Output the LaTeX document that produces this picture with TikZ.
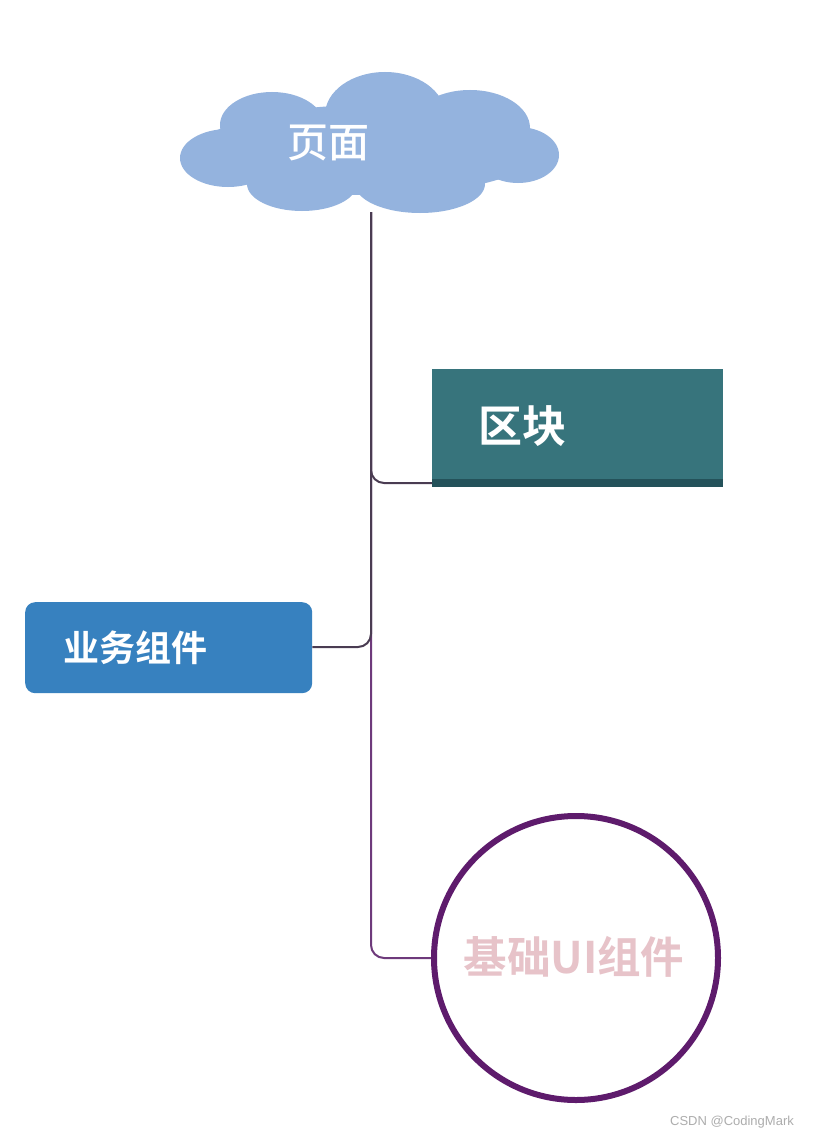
\documentclass[tikz,border=0pt]{standalone}
\usepackage{fontspec}
\newfontfamily\cjk{Noto Sans CJK SC Medium}
\newfontfamily\cjkb{Noto Sans CJK SC Bold}
\setsansfont{Liberation Sans}
\definecolor{cloudblue}{HTML}{94B3DE}
\definecolor{blockteal}{HTML}{37747C}
\definecolor{blockdark}{HTML}{24525A}
\definecolor{bizblue}{HTML}{3781BF}
\definecolor{ringpurple}{HTML}{5E1B6C}
\definecolor{uipink}{HTML}{E7C3C9}
\definecolor{linedark}{HTML}{4A3C52}
\definecolor{linepurple}{HTML}{6E3A7B}
\tikzset{
  conn/.style={line width=2pt, rounded corners=13pt},
  bump/.style={fill=cloudblue, draw=none},
}
\begin{document}
\begin{tikzpicture}[x=1pt,y=-1pt]
\useasboundingbox (0,0) rectangle (815,1137);
\fill[white] (0,0) rectangle (815,1137);
% cloud
\fill[bump] (370,150) ellipse[x radius=170, y radius=45];
\fill[bump] (385,115) ellipse[x radius=60, y radius=43];
\fill[bump] (272,125) ellipse[x radius=52, y radius=33];
\fill[bump] (470,128) ellipse[x radius=60, y radius=38];
\fill[bump] (228,158) ellipse[x radius=48, y radius=29];
\fill[bump] (518,155) ellipse[x radius=41, y radius=28];
\fill[bump] (302,184) ellipse[x radius=55, y radius=27];
\fill[bump] (420,184) ellipse[x radius=65, y radius=29];
\node[font=\cjk\fontsize{41}{41}\selectfont, text=white, inner sep=0pt] (page) at (328,143) {页面};
\coordinate (root) at (371,212);
% block
\node[fill=blockteal, minimum width=291pt, minimum height=117pt, inner sep=0pt, anchor=north west] (block) at (432,369) {};
\fill[blockdark] (432,479) rectangle (723,487);
\node[font=\cjkb\fontsize{44}{44}\selectfont, text=white, inner sep=0pt] (blocktext) at (522,426) {区块};
% business
\node[fill=bizblue, rounded corners=10pt, minimum width=287pt, minimum height=91pt, inner sep=0pt, anchor=north west] (biz) at (25,602) {};
\node[font=\cjkb\fontsize{36}{36}\selectfont, text=white, inner sep=0pt] (biztext) at (135,648) {业务组件};
% circle
\node[circle, draw=ringpurple, line width=6pt, minimum size=284pt, inner sep=0pt] (ui) at (576,958) {};
\node[font=\cjkb\fontsize{43.5}{43.5}\selectfont, text=uipink, inner sep=0pt] (uitext) at (574,957) {基础UI组件};
% connectors
\draw[conn, linepurple] (root) -- (371,958) -- (ui.west);
\draw[conn, linedark] (root) -- (371,647) -- (biz.east |- 0,647);
\draw[conn, linedark] (root) -- (371,483) -- (432,483);
% watermark
\node[font=\sffamily\fontsize{13}{13}\selectfont, text=black!32, inner sep=0pt] (wm) at (732,1122) {CSDN @CodingMark};
\end{tikzpicture}
\end{document}
